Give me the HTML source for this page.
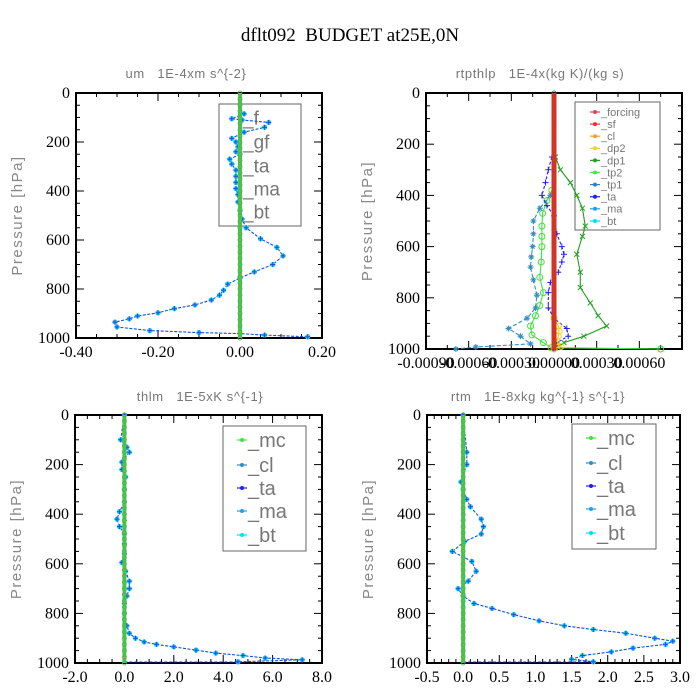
<!DOCTYPE html>
<html><head><meta charset="utf-8"><style>
html,body{margin:0;padding:0;background:#fff;}
svg{display:block;}
text{white-space:pre;}
</style></head><body>
<svg id="fig" width="700" height="700" xmlns="http://www.w3.org/2000/svg">
<text x="350" y="41" text-anchor="middle" font-family="'Liberation Serif',serif" font-size="19">dflt092  BUDGET at25E,0N</text>
</svg>
<script>
// ---- data ----
const pLevels = [0,25,50,75,100,125,150,175,200,225,250,275,300,325,350,375,400,425,450,475,500,525,550,575,600,625,650,675,700,725,750,775,800,825,850,875,900,925,950,975,1000];
// panel 1: um
const umP = [85,105,110,120,140,160,185,200,220,240,250,270,290,315,340,365,390,415,445,480,515,550,595,630,665,700,730,755,780,805,825,845,865,880,897,910,922,935,955,970,978,982,988,995];
const umX = [0.01,-0.02,0.005,0.07,0.06,0.01,-0.02,-0.01,-0.005,-0.01,0.0,-0.025,-0.02,-0.01,-0.01,-0.01,-0.01,-0.005,-0.005,0.0,0.005,0.015,0.05,0.09,0.105,0.08,0.035,0.0,-0.03,-0.04,-0.05,-0.07,-0.11,-0.16,-0.2,-0.25,-0.27,-0.305,-0.3,-0.22,-0.1,0.0,0.06,0.165];
// panel 2: rtpthlp (units 1e-4)
const dp1P = [250,300,350,400,450,520,560,630,700,760,820,870,910,950,975,995];
const dp1X = [0.1,0.45,1.15,1.6,2.0,2.2,2.0,1.6,1.85,1.85,2.55,3.1,3.7,2.1,0.7,0.1];
const taP = [250,300,350,400,440,480,550,600,630,660,700,740,780,840,880,920,950,975,995];
const taX = [-0.15,-0.4,-0.6,-0.85,-0.5,0,0.2,0.55,0.7,0.55,0.3,-0.25,-0.4,-0.4,0,0.9,1.0,0.2,0];
const tp1P = [400,450,500,550,600,640,680,730,790,840,880,920,950,980,992,1000];
const tp1X = [-0.25,-1.0,-1.45,-1.45,-1.5,-1.6,-1.65,-1.45,-1.2,-1.3,-1.9,-3.2,-2.35,-1.65,-5.5,-6.9];
const tp2P = [380,420,470,520,560,600,660,720,780,830,870,910,945,975,995,1000];
const tp2X = [-0.15,-0.5,-0.8,-0.85,-0.85,-0.85,-0.9,-1.0,-0.75,-1.0,-1.3,-1.65,-1.55,-0.75,-0.2,7.5];
const clP = [880,910,930,950,970,990,1000];
const clX = [0,0.3,0.35,0.3,0.2,0.5,0];
// panel 3: thlm
const thP = [0,100,130,150,190,220,250,300,350,390,420,450,480,520,560,595,630,670,700,730,760,800,850,880,900,915,925,935,948,960,970,980,987,995];
const thX = [0,-0.15,0.1,0.2,-0.1,-0.1,0.05,0,0,-0.2,-0.3,-0.2,0,0,0,-0.1,0.05,0.2,0.2,0.1,0,0,0.1,0.2,0.45,0.8,1.3,2.0,2.9,3.7,4.8,5.7,7.2,4.6];
// panel 4: rtm
const rtP = [0,150,200,270,300,340,370,420,450,480,510,550,590,630,670,700,730,760,780,805,830,850,865,880,900,912,925,940,955,970,985,995];
const rtX = [0,0.05,0.05,-0.03,0,0.05,0.1,0.25,0.28,0.25,0.02,-0.15,0.12,0.18,0.07,-0.07,0,0.15,0.4,0.7,1.05,1.4,1.8,2.25,2.65,2.9,2.8,2.35,2.05,1.65,1.5,1.8];
const yTicks = [0,200,400,600,800,1000];
const x1Ticks = [-0.4,-0.2,0,0.2], x1Lab = ["-0.40","-0.20","0.00","0.20"];
const x2Ticks = [-9,-6,-3,0,3,6], x2Lab = ["-0.00090","-0.00060","-0.00030","0.00000","0.00030","0.00060"];
const x3Ticks = [-2,0,2,4,6,8], x3Lab = ["-2.0","0.0","2.0","4.0","6.0","8.0"];
const x4Ticks = [-0.5,0,0.5,1,1.5,2,2.5,3], x4Lab = ["-0.5","0.0","0.5","1.0","1.5","2.0","2.5","3.0"];

const NS="http://www.w3.org/2000/svg";
const svg=document.getElementById('fig');
const SERIF="'Liberation Serif', serif";
const SANS="'Liberation Sans', sans-serif";
function mk(tag,attrs,parent){const e=document.createElementNS(NS,tag);for(const k in attrs)e.setAttribute(k,attrs[k]);(parent||svg).appendChild(e);return e;}

function panel(cfg){
  const g=mk('g',{});
  
  
  const sx=v=>cfg.x0+(v-cfg.xmin)/(cfg.xmax-cfg.xmin)*(cfg.x1-cfg.x0);
  const sy=p=>cfg.y0+p/1000*(cfg.y1-cfg.y0);
  cfg.sx=sx;cfg.sy=sy;cfg.g=g;
  const t=mk('text',{x:cfg.subx,y:cfg.suby,'text-anchor':'middle','font-family':SANS,'font-size':13,fill:'#777','letter-spacing':0.6},g);t.textContent=cfg.sub;
  
  
  const yl=mk('text',{x:0,y:0,'text-anchor':'middle','font-family':SANS,'font-size':15,fill:'#888','letter-spacing':1.5,transform:`translate(${cfg.x0-54},${(cfg.y0+cfg.y1)/2}) rotate(-90)`},g);yl.textContent='Pressure [hPa]';
  
  
  for(let p=0;p<=1000;p+=50){const maj=p%200===0;const L=maj?8:4;const y=sy(p);
    mk('line',{x1:cfg.x0,x2:cfg.x0+L,y1:y,y2:y,stroke:'#000','stroke-width':1},g);
    mk('line',{x1:cfg.x1,x2:cfg.x1-L,y1:y,y2:y,stroke:'#000','stroke-width':1},g);}
  yTicks.forEach(p=>{const tt=mk('text',{x:cfg.x0-6,y:sy(p)+5,'text-anchor':'end','font-family':SERIF,'font-size':16,fill:'#000'},g);tt.textContent=p;
    
    });
  const step=cfg.minor;
  for(let v=cfg.xmin;v<=cfg.xmax+1e-9;v+=step){const x=sx(v);
    const maj=cfg.xt.some(m=>Math.abs(m-v)<1e-6);const L=maj?8:4;
    mk('line',{x1:x,x2:x,y1:cfg.y1,y2:cfg.y1-L,stroke:'#000','stroke-width':1},g);
    mk('line',{x1:x,x2:x,y1:cfg.y0,y2:cfg.y0+L,stroke:'#000','stroke-width':1},g);}
  cfg.xt.forEach((v,i)=>{const tt=mk('text',{x:sx(v),y:cfg.y1+19,'text-anchor':'middle','font-family':SERIF,'font-size':16,fill:'#000'},g);tt.textContent=cfg.xl[i];
    
    });
  const box=mk('rect',{x:cfg.x0,y:cfg.y0,width:cfg.x1-cfg.x0,height:cfg.y1-cfg.y0,fill:'none',stroke:'#000','stroke-width':2},g);
  
  
  return cfg;
}
function zeroLine(c,color,w,mcolor){
  const l=mk('line',{x1:c.sx(0),x2:c.sx(0),y1:c.y0,y2:c.y1,stroke:color,'stroke-width':w},c.g);
  
  
  pLevels.forEach(p=>{const m=mk('circle',{cx:c.sx(0),cy:c.sy(p),r:2,fill:'none',stroke:mcolor,'stroke-width':0.8},c.g);
    
    });
}
function series(c,P,X,color,marker,mcolor,dash,name){
  const pts=P.map((p,i)=>c.sx(X[i]).toFixed(1)+','+c.sy(p).toFixed(1)).join(' ');
  const pl=mk('polyline',{points:pts,fill:'none',stroke:color,'stroke-width':1.1,'stroke-dasharray':dash||'none'},c.g);
  
  
  P.forEach((p,i)=>{const x=c.sx(X[i]),y=c.sy(p);
    if(marker==='dot'){const m=mk('circle',{cx:x,cy:y,r:2.6,fill:mcolor},c.g);
      const q=mk('path',{d:`M${x-2.5},${y}h5M${x},${y-2.5}v5`,stroke:color,'stroke-width':1},c.g);}
    else if(marker==='x'){const m=mk('path',{d:`M${x-2.5},${y-2.5}l5,5M${x-2.5},${y+2.5}l5,-5`,stroke:mcolor,'stroke-width':1},c.g);}
    else if(marker==='+'){const m=mk('path',{d:`M${x-3},${y}h6M${x},${y-3}v6`,stroke:mcolor,'stroke-width':1},c.g);}
    else if(marker==='o'){const m=mk('circle',{cx:x,cy:y,r:3,fill:'none',stroke:mcolor,'stroke-width':1},c.g);}
    else if(marker==='*'){const m=mk('path',{d:`M${x-3},${y}h6M${x},${y-3}v6M${x-2},${y-2}l4,4M${x-2},${y+2}l4,-4`,stroke:mcolor,'stroke-width':1},c.g);}
  });
}
function legend(c,bx,by,bw,bh,items,ys,tx,fs,mx){
  const lg=mk('g',{},c.g);
  
  
  mk('rect',{x:bx,y:by,width:bw,height:bh,fill:'none',stroke:'#666','stroke-width':1},lg);
  items.forEach((it,i)=>{
    const e=mk('g',{},lg);
    
    
    if(it[1])mk('line',{x1:mx-5,x2:mx+5,y1:ys[i],y2:ys[i],stroke:it[1],'stroke-width':1.2},e);
    if(it[1])mk('circle',{cx:mx,cy:ys[i],r:2,fill:it[1]},e);
    const t=mk('text',{x:tx,y:ys[i]+fs*0.35,'font-family':SANS,'font-size':fs,fill:'#777'},e);t.textContent=it[0];
  });
}

// Panel 1
const c1=panel({name:'panel-um',x0:76,x1:322,y0:93,y1:338,xmin:-0.4,xmax:0.2,minor:0.05,xt:x1Ticks,xl:x1Lab,sub:'um   1E-4xm s^{-2}',subx:186,suby:78});
legend(c1,219,104,82,122,[['_f',''],['_gf',''],['_ta',''],['_ma',''],['_bt','']],[118,142,166,189,212],243,19,0);
series(c1,umP,umX,'#1050e0','dot','#20d0f0','3,1.5','um-budget-series');
zeroLine(c1,'#40d040',4,'#60a060');

// Panel 2
const c2=panel({name:'panel-rtpthlp',x0:426,x1:682,y0:93,y1:349,xmin:-9,xmax:9,minor:1.5,xt:x2Ticks,xl:x2Lab,sub:'rtpthlp   1E-4x(kg K)/(kg s)',subx:540,suby:78});
legend(c2,575,102,85,128,[['_forcing','#e04060'],['_sf','#f03030'],['_cl','#f0a030'],['_dp2','#f0d020'],['_dp1','#20a020'],['_tp2','#40f040'],['_tp1','#3080c0'],['_ta','#2020f0'],['_ma','#20a0f0'],['_bt','#00e0f0']],[112,124.1,136.2,148.3,160.4,172.5,184.6,196.7,208.8,221],601,11,595);
series(c2,dp1P,dp1X,'#20a020','x','#20a020',null,'dp1-series');
series(c2,tp2P,tp2X,'#40e040','o','#40e040',null,'tp2-series');
series(c2,tp1P,tp1X,'#3090c0','*','#3090c0','4,2','tp1-series');
series(c2,taP,taX,'#2020f0','+','#2020f0','3,2','ta-series');
series(c2,clP,clX,'#f0c020','o','#f0d020',null,'cl-series');
zeroLine(c2,'#e03020',5,'#b04030');

// Panel 3
const c3=panel({name:'panel-thlm',x0:75,x1:322,y0:415,y1:663,xmin:-2,xmax:8,minor:0.5,xt:x3Ticks,xl:x3Lab,sub:'thlm   1E-5xK s^{-1}',subx:200,suby:401});
legend(c3,223,426,83,125,[['_mc','#40e040'],['_cl','#3090c0'],['_ta','#2020f0'],['_ma','#20a0f0'],['_bt','#00e0f0']],[440,465,488,511,535],248,20,242);
series(c3,thP,thX,'#1050e0','dot','#20d0f0','3,1.5','thlm-budget-series');
const tb3=mk('line',{x1:c3.sx(0),x2:c3.sx(4.6),y1:c3.sy(1000)-1,y2:c3.sy(1000)-1,stroke:'#2020f0','stroke-width':1,'stroke-dasharray':'3,2'},c3.g);


zeroLine(c3,'#40d040',4,'#60a060');

// Panel 4
const c4=panel({name:'panel-rtm',x0:427,x1:680,y0:415,y1:663,xmin:-0.5,xmax:3.0,minor:0.1,xt:x4Ticks,xl:x4Lab,sub:'rtm   1E-8xkg kg^{-1} s^{-1}',subx:538,suby:401});
legend(c4,572,424,84,125,[['_mc','#40e040'],['_cl','#3090c0'],['_ta','#2020f0'],['_ma','#20a0f0'],['_bt','#00e0f0']],[438,463,486,509,533],597,20,591);
series(c4,rtP,rtX,'#1050e0','dot','#20d0f0','3,1.5','rtm-budget-series');
const tb4=mk('line',{x1:c4.sx(0),x2:c4.sx(1.8),y1:c4.sy(1000)-1,y2:c4.sy(1000)-1,stroke:'#2020f0','stroke-width':1,'stroke-dasharray':'3,2'},c4.g);


zeroLine(c4,'#40d040',4,'#60a060');
</script>
</body></html>
